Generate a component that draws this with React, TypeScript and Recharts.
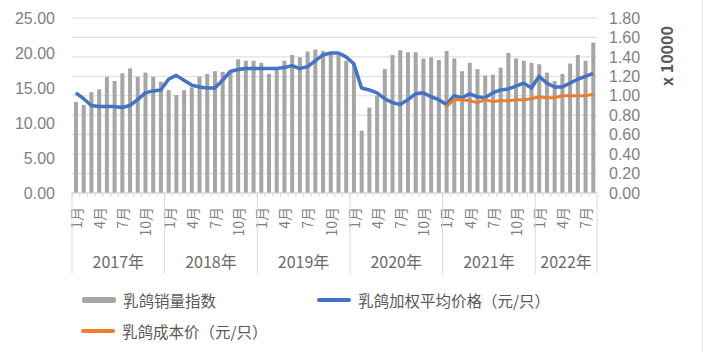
// Pigeon sales index (bars, left axis) vs weighted avg price and cost (lines,
// right axis, x 10000). Monthly, Jan 2017 – Aug 2022. Excel-style multi-level x axis.

import { Bar, CartesianGrid, ComposedChart, Line, XAxis, YAxis } from "recharts";

const years = ["2017年", "2018年", "2019年", "2020年", "2021年", "2022年"];
const monthsPerYear = [12, 12, 12, 12, 12, 8];
const monthNames = ["1月", "2月", "3月", "4月", "5月", "6月", "7月", "8月", "9月", "10月", "11月", "12月"];

const salesIndex = [
  13.0, 12.6, 14.4, 14.8, 16.6, 16.0, 17.1, 17.8, 16.6, 17.2, 16.6, 15.9,
  14.7, 14.0, 14.7, 15.1, 16.6, 17.0, 17.4, 17.3, 17.2, 19.1, 18.9, 18.9,
  18.6, 17.0, 18.0, 18.9, 19.7, 19.4, 20.2, 20.5, 20.3, 20.0, 19.8, 18.9,
  18.5, 8.9, 12.2, 13.9, 17.7, 19.7, 20.4, 20.1, 20.1, 19.2, 19.4, 19.0,
  20.3, 19.2, 17.4, 18.6, 17.7, 16.8, 16.9, 17.9, 20.0, 19.2, 18.9, 18.6,
  18.4, 17.2, 16.0, 17.0, 18.5, 19.7, 18.9, 21.5,
];

const avgPrice = [
  1.03, 0.97, 0.9, 0.89, 0.89, 0.89, 0.88, 0.9, 0.96, 1.03, 1.05, 1.06,
  1.17, 1.21, 1.16, 1.11, 1.09, 1.08, 1.08, 1.16, 1.25, 1.27, 1.28, 1.28,
  1.28, 1.28, 1.28, 1.29, 1.31, 1.28, 1.3, 1.36, 1.42, 1.44, 1.44, 1.4,
  1.33, 1.08, 1.06, 1.03, 0.97, 0.93, 0.91, 0.96, 1.02, 1.03, 0.99, 0.96,
  0.91, 1.0, 0.98, 1.02, 0.99, 0.98, 1.03, 1.06, 1.07, 1.1, 1.13, 1.08,
  1.2, 1.13, 1.09, 1.09, 1.13, 1.17, 1.2, 1.23,
];

// cost series starts Jan 2021
const costPrice = [
  0.89, 0.96, 0.96, 0.95, 0.93, 0.96, 0.94, 0.95, 0.95, 0.96, 0.96, 0.97,
  0.99, 0.98, 0.98, 1.0, 1.0, 1.0, 1.0, 1.015,
];

const leftTicks = [0, 5, 10, 15, 20, 25];
const rightTicks = [0, 0.2, 0.4, 0.6, 0.8, 1.0, 1.2, 1.4, 1.6, 1.8];

const cats: { key: string; yi: number; mi: number }[] = [];
years.forEach((_, yi) => {
  for (let mi = 0; mi < monthsPerYear[yi]; mi++) cats.push({ key: `${yi}-${mi}`, yi, mi });
});
const costStart = cats.length - costPrice.length;

const data = cats.map((c, i) => ({
  key: c.key,
  sales: salesIndex[i],
  price: avgPrice[i],
  cost: i >= costStart ? costPrice[i - costStart] : null,
}));

const FONT = "'Noto Sans CJK SC', 'Noto Sans', sans-serif";
const NUM_FONT = "'Liberation Sans', Arial, sans-serif";
const W = 703;
const LEFT_W = 72;
const RIGHT_W = 60;
const RIGHT_M = 46;
const PLOT_W = W - LEFT_W - RIGHT_W - RIGHT_M;
const BAND = PLOT_W / cats.length;

function CatTick(props: any) {
  const { x, y, payload } = props;
  const c = cats.find((k) => k.key === payload.value);
  if (!c) return null;
  const left = x - BAND / 2;
  const isLast = c.key === cats[cats.length - 1].key;
  return (
    <g>
      <line x1={left} x2={left} y1={y} y2={y + 4} stroke="#d9d9d9" />
      {c.mi % 3 === 0 && (
        <text
          transform={`translate(${x},${y + 14}) rotate(-90)`}
          textAnchor="end"
          dominantBaseline="central"
          fontSize={14}
          fill="#7f7f7f"
          fontFamily={FONT}
        >
          {monthNames[c.mi]}
        </text>
      )}
      {c.mi === 0 && (
        <>
          <line x1={left} x2={left} y1={y} y2={y + 81} stroke="#d9d9d9" />
          <text
            x={left + (monthsPerYear[c.yi] * BAND) / 2}
            y={y + 75}
            textAnchor="middle"
            fontSize={16}
            fill="#6b6b6b"
            fontFamily={FONT}
          >
            {years[c.yi]}
          </text>
        </>
      )}
      {isLast && (
        <line x1={x + BAND / 2} x2={x + BAND / 2} y1={y} y2={y + 81} stroke="#d9d9d9" />
      )}
    </g>
  );
}

const tickStyle = { fontSize: 16, fill: "#7f7f7f", fontFamily: NUM_FONT };

export default function App() {
  return (
    <div
      style={{
        position: "absolute",
        left: 0,
        top: 0,
        width: W,
        height: 352,
        background: "#fff",
        borderRight: "1px solid #e3e3e3",
        boxSizing: "border-box",
        fontFamily: FONT,
      }}
    >
      <ComposedChart
        width={W}
        height={285}
        data={data}
        margin={{ top: 18, right: RIGHT_M, left: 0, bottom: 0 }}
        barCategoryGap={0}
      >
        <CartesianGrid yAxisId="right" vertical={false} stroke="#d9d9d9" />
        <XAxis
          dataKey="key"
          interval={0}
          height={92}
          tickSize={0}
          tickMargin={0}
          tick={CatTick}
          axisLine={{ stroke: "#d9d9d9" }}
          tickLine={false}
        />
        <YAxis
          yAxisId="left"
          domain={[0, 25]}
          ticks={leftTicks}
          interval={0}
          width={LEFT_W}
          tickSize={0}
          tickMargin={17}
          axisLine={false}
          tickLine={false}
          tick={tickStyle}
          tickFormatter={(v: number) => v.toFixed(2)}
        />
        <YAxis
          yAxisId="right"
          orientation="right"
          domain={[0, 1.8]}
          ticks={rightTicks}
          interval={0}
          width={RIGHT_W}
          tickSize={0}
          tickMargin={12}
          axisLine={false}
          tickLine={false}
          tick={tickStyle}
          tickFormatter={(v: number) => v.toFixed(2)}
        />
        <Bar yAxisId="left" dataKey="sales" fill="#a6a6a6" barSize={4} isAnimationActive={false} />
        <Line
          yAxisId="right"
          type="linear"
          dataKey="price"
          stroke="#4472c4"
          strokeWidth={3.5}
          strokeLinejoin="round"
          dot={false}
          isAnimationActive={false}
        />
        <Line
          yAxisId="right"
          type="linear"
          dataKey="cost"
          stroke="#ed7d31"
          strokeWidth={3}
          strokeLinejoin="round"
          dot={false}
          connectNulls={false}
          isAnimationActive={false}
        />
      </ComposedChart>

      <div
        style={{
          position: "absolute",
          left: 666,
          top: 56,
          transform: "translate(-50%, -50%) rotate(-90deg)",
          whiteSpace: "nowrap",
          fontSize: 16,
          fontWeight: 600,
          color: "#595959",
        }}
      >
        x 10000
      </div>

      <LegendItem left={82} top={300} color="#a6a6a6" h={6} label="乳鸽销量指数" />
      <LegendItem left={317} top={300} color="#4472c4" h={4} label="乳鸽加权平均价格（元/只）" />
      <LegendItem left={81} top={331} color="#ed7d31" h={4} label="乳鸽成本价（元/只）" />
    </div>
  );
}

function LegendItem({ left, top, color, h, label }: { left: number; top: number; color: string; h: number; label: string }) {
  return (
    <div
      style={{
        position: "absolute",
        left,
        top,
        transform: "translateY(-50%)",
        display: "flex",
        alignItems: "center",
        whiteSpace: "nowrap",
        fontSize: 15.5,
        color: "#595959",
      }}
    >
      <span style={{ display: "inline-block", width: 34, height: h, background: color, borderRadius: 2, marginRight: 7 }} />
      {label}
    </div>
  );
}
